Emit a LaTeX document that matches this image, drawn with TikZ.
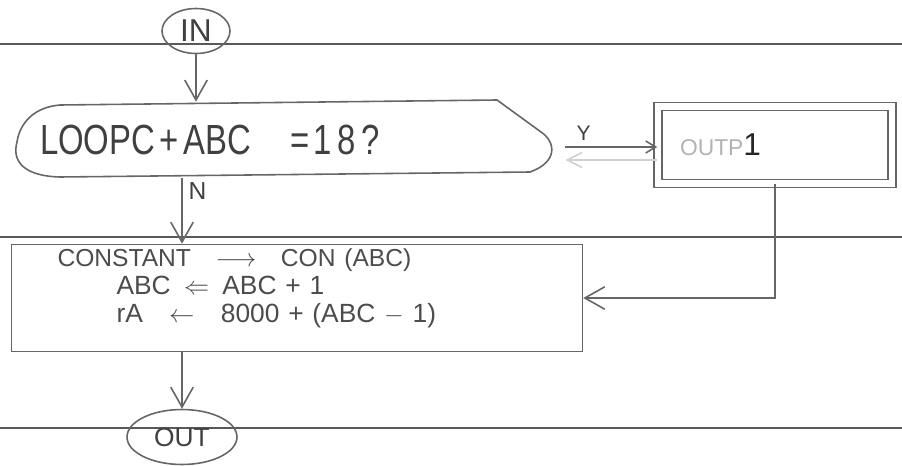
\documentclass[tikz,border=0pt]{standalone}
\usepackage{fontspec}
\setmainfont{Liberation Sans}
\usepackage{graphicx}
\usetikzlibrary{arrows.meta, positioning, shapes.geometric, calc}

\begin{document}
\begin{tikzpicture}[
			x=0.02cm, y=-0.02cm,
			pencil/.style={draw=black!60, line width=0.9pt},
			faint/.style={draw=black!18, line width=0.9pt},
			rule/.style={draw=black!65, line width=0.6pt},
			arr/.style={pencil, -{Straight Barb[length=4mm,width=4.5mm]}},
			arrsmall/.style={pencil, -{Straight Barb[length=2mm,width=2.4mm]}},
			term/.style={ellipse, pencil, inner sep=0pt, text=black!75},
			box/.style={rectangle, pencil, inner ysep=0pt, align=left, text=black!70}
			]
			\useasboundingbox (0,0) rectangle (902,466);
			% ruled paper
			\foreach \y in {44,237,428}{
				\draw[rule] (0,\y) -- (902,\y);
			}
			% nodes
			\node[term, minimum width=1.36cm, minimum height=0.9cm, font=\fontsize{18}{18}\selectfont] (in) at (196,31) {IN};
			\node[draw=none, minimum width=11cm, minimum height=1.52cm, text width=9.8cm, inner xsep=0.6cm, align=left, text=black!75] (test) at (285,140)
				{\scalebox{0.78}[1]{\fontsize{24}{24}\selectfont LOOPC + ABC\hspace{1cm}= 1\,8\,?}};
			\draw[pencil] (60,105) -- (497,100) -- (541,132)
				.. controls (556,142) and (558,162) .. (530,172)
				-- (60,177) .. controls (22,176) and (12,160) .. (17,142)
				.. controls (20,122) and (35,107) .. (60,105) -- cycle;
			\node[box, double, double distance=3.5pt, minimum width=4.68cm, minimum height=1.54cm, text width=3.8cm, inner xsep=0.44cm] (outp) at (775,145)
				{{\color{black!30}\fontsize{13}{13}\selectfont OUTP}{\color{black!85}\fontsize{18}{18}\selectfont 1}};
			\node[box, minimum width=11.42cm, minimum height=2.14cm, text width=9.58cm, inner xsep=0.92cm, font=\fontsize{15}{16}\selectfont] (proc) at (297,298)
				{{\fontsize{14}{16}\selectfont CONSTANT\quad$\longrightarrow$\quad CON (ABC)}\\
				\hspace{1.18cm}ABC\enspace$\Leftarrow$\enspace ABC + 1\\
				\hspace{1.18cm}rA\quad$\leftarrow$\quad 8000 + (ABC $-$ 1)\rule[-0.5cm]{0pt}{0pt}};
			\node[term, minimum width=2.2cm, minimum height=1.1cm, font=\fontsize{15}{15}\selectfont] (out) at (182,437) {OUT};
			% connectors
			\draw[arr] (in.south) -- (in.south |- test.north);
			\draw[arrsmall] ([xshift=0.1cm, yshift=-0.14cm]test.east) -- node[above, pos=0.2, text=black!75, font=\fontsize{12}{12}\selectfont] (ylab) {Y} ([yshift=-0.14cm]test.east -| outp.west);
			\draw[faint, {Straight Barb[length=3mm,width=3mm]}-] ([xshift=0.1cm, yshift=-0.4cm]test.east) -- ([yshift=-0.4cm]test.east -| outp.west);
			\draw[arr] (test.south -| out.north) -- node[right, pos=0.2, text=black!75, font=\fontsize{14}{14}\selectfont] (nlab) {N} (proc.north -| out.north);
			\draw[arr] (outp.south) |- (proc.east);
			\draw[arr] (proc.south -| out.north) -- (out.north);
		\end{tikzpicture}
\end{document}
